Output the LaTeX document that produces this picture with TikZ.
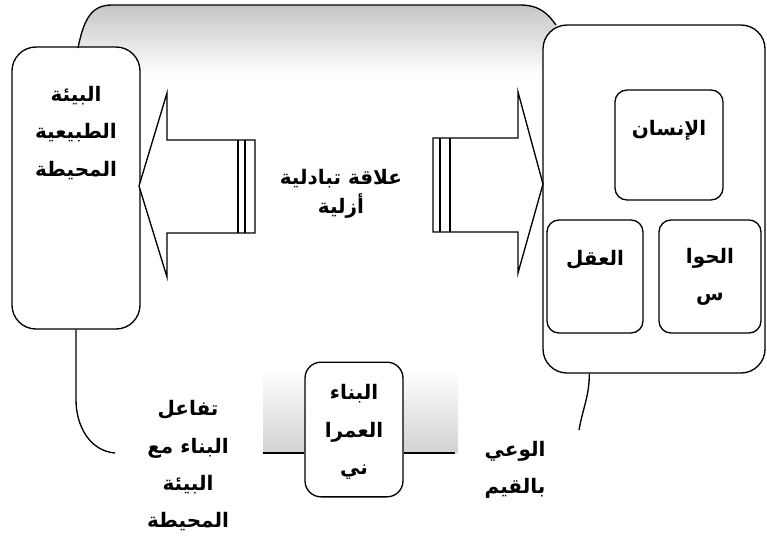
\documentclass[tikz,border=0pt]{standalone}
\usepackage{fontspec}
\newfontfamily\arabicfont[Script=Arabic, BoldFont={DejaVu Sans Bold}]{DejaVu Sans}
\TeXXeTstate=1
\usetikzlibrary{positioning, calc}

\newcommand{\arline}[1]{\beginR #1\endR}

\begin{document}
\begin{tikzpicture}[
    x=0.75pt, y=-0.75pt,
    line width=1pt,
    box/.style      = {draw, fill=white, rounded corners=18pt},
    inbox/.style    = {draw, fill=white, rounded corners=9pt},
    txt/.style      = {font=\arabicfont\bfseries\fontsize{15}{28}\selectfont,
                       align=center, inner sep=0pt},
    link/.style     = {draw, line width=1pt},
    bigarrow/.style = {draw, fill=white, line join=miter},
    band/.style     = {top color=gray!45, bottom color=white}
]
\useasboundingbox (0,0) rectangle (767,558);

% ---------------- shaded bands ----------------
\shade[band] (78,48) .. controls (84,18) and (92,5) .. (112,5) -- (520,5)
             .. controls (540,5) and (548,14) .. (556,25) -- (556,75) -- (78,75) -- cycle;
\shade[top color=white, bottom color=gray!35] (263,370) rectangle (458,452);

% ---------------- main boxes ----------------
\node[box, minimum width=96pt, minimum height=211.5pt]   (envbox) at (76,188) {};
\node[box, minimum width=166.5pt, minimum height=261pt]  (manbox) at (654,199) {};
\node[box, rounded corners=12pt, minimum width=73.5pt,
      minimum height=101pt]                              (bldbox) at (354,429.5) {};

% ---------------- inner boxes ----------------
\node[inbox, minimum width=81pt, minimum height=82.5pt]    (humbox)   at (669,145) {};
\node[inbox, minimum width=72pt, minimum height=84.75pt]   (mindbox)  at (595,276.5) {};
\node[inbox, minimum width=76.5pt, minimum height=84.75pt] (sensebox) at (710,276.5) {};

% top band outline
\draw (78,48) .. controls (84,18) and (92,5) .. (112,5) -- (520,5)
      .. controls (540,5) and (548,14) .. (556,25);

% ---------------- texts ----------------
\node[txt] (envtxt)   at (76,133)  {\arline{البيئة}\\\arline{الطبيعية}\\\arline{المحيطة}};
\node[txt] (humtxt)   at (669,130) {\arline{الإنسان}};
\node[txt] (mindtxt)  at (595,260) {\arline{العقل}};
\node[txt] (sensetxt) at (710,277) {\arline{الحوا}\\\arline{س}};
\node[txt] (bldtxt)   at (354,432) {\arline{البناء}\\\arline{العمرا}\\\arline{ني}};
\node[txt] (reltxt)   at (341,194) {\arline{علاقة تبادلية}\\[-6pt]\arline{أزلية}};
\node[txt] (inttxt)   at (188,466) {\arline{تفاعل}\\\arline{البناء مع}\\\arline{البيئة}\\\arline{المحيطة}};
\node[txt] (valtxt)   at (515,470) {\arline{الوعي}\\\arline{بالقيم}};

% ---------------- hollow arrows ----------------
\coordinate (ltip) at (139,186);
\coordinate (rtip) at (543,184);
\draw[bigarrow] (ltip) -- (167,93) -- (167,140) -- (255,140) -- (255,233)
                -- (167,233) -- (167,277) -- cycle;
\draw (238,140) -- (238,233) (245,140) -- (245,233);
\draw[bigarrow] (rtip) -- (518,92) -- (518,138) -- (433,138) -- (433,232)
                -- (518,232) -- (518,273) -- cycle;
\draw (440,138) -- (440,232) (450,138) -- (450,232);

% ---------------- bottom connectors ----------------
\coordinate (lfree) at (115,453);
\coordinate (lgap)  at (263,453);
\coordinate (rgap)  at (455,453);
\coordinate (rfree) at (579,430);
\draw[link] (envbox.south) -- ++(0,70) to[out=-90,in=175] (lfree);
\draw[link] (lgap) -- (bldbox.west |- lgap);
\draw[link] (bldbox.east |- rgap) -- (rgap);
\draw[link] ($(manbox.south west)+(47,0)$) to[out=-90,in=80] (rfree);

\end{tikzpicture}
\end{document}
